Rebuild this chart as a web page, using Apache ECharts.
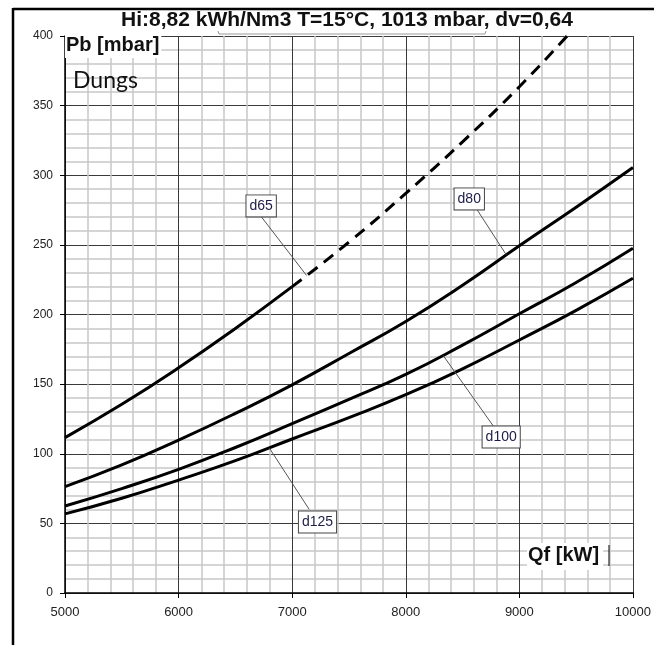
<!DOCTYPE html>
<html>
<head>
<meta charset="utf-8">
<script src="https://cdn.jsdelivr.net/npm/echarts@6/dist/echarts.min.js"></script>
<style>
html,body{margin:0;padding:0;background:#fff;}
#chart{width:654px;height:645px;}
</style>
</head>
<body>
<div id="chart"></div>
<script>
// ---- data ----
const qf = [5000, 5500, 6000, 6500, 7000, 7500, 8000, 8500, 9000, 9500, 10000];
const d80 = [76.4, 92, 109.8, 129, 149.5, 172, 195, 221, 249.3, 277, 305.5];
const d100 = [62.5, 75, 88.8, 104.5, 121.6, 139, 157, 178, 200.5, 223, 247.6];
const d125 = [56.8, 68, 81.1, 95, 110.6, 126, 142.4, 161, 181.7, 203, 226];
const d65SolidQ = [5000, 5500, 6000, 6500, 7000];
const d65Solid = [111.6, 135.5, 161.7, 190, 220];
const d65DashQ = [7000, 7500, 8000, 8500, 9000, 9420];
const d65Dash = [220, 252, 287, 324, 363.6, 400];
const xTicks = [5000, 6000, 7000, 8000, 9000, 10000];
const yTicks = [0, 50, 100, 150, 200, 250, 300, 350, 400];
const titleText = 'Hi:8,82 kWh/Nm3 T=15°C, 1013 mbar, dv=0,64';
const seriesNames = ['d65', 'd80', 'd100', 'd125'];

// ---- label callout layout (data coords of box centre, box edge and curve point) ----
const callouts = [
  {name: 'd65',  box: [6727, 278], from: [6730, 270], to: [7127, 228]},
  {name: 'd80',  box: [8559, 283], from: [8630, 275], to: [8884, 243]},
  {name: 'd100', box: [8840, 112], from: [8770, 120], to: [8330, 170.5]},
  {name: 'd125', box: [7223, 51],  from: [7150, 60],  to: [6800, 104]}
];

const zip = (xs, ys) => xs.map((x, i) => [x, ys[i]]);
const chart = echarts.init(document.getElementById('chart'), null, {renderer: 'canvas'});
const FONT = '"Liberation Sans", Arial, sans-serif';
const NARROW = '"Liberation Sans Narrow", "Arial Narrow", "Liberation Sans", sans-serif';

const lineStyle = {color: '#000', width: 3};
const option = {
  backgroundColor: '#fff',
  animation: false,
  grid: {left: 65, right: 20, top: 36, bottom: 52},
  xAxis: {
    type: 'value', min: xTicks[0], max: xTicks[xTicks.length - 1], interval: 1000,
    axisLine: {show: true, onZero: false, lineStyle: {color: '#000', width: 1.5}},
    axisTick: {show: true, length: 5, lineStyle: {color: '#000'}},
    axisLabel: {color: '#222', fontSize: 13, fontFamily: NARROW, margin: 13, formatter: v => String(v)},
    splitLine: {show: true, lineStyle: {color: '#3a3a3a', width: 1}},
    minorTick: {show: true, splitNumber: 5, length: 0},
    minorSplitLine: {show: true, lineStyle: {color: '#c8c8c8', width: 1.5}}
  },
  yAxis: {
    type: 'value', min: yTicks[0], max: yTicks[yTicks.length - 1], interval: 50,
    axisLine: {show: true, lineStyle: {color: '#000', width: 1.5}},
    axisTick: {show: true, length: 5, lineStyle: {color: '#000'}},
    axisLabel: {color: '#222', fontSize: 12, fontFamily: FONT, margin: 12, formatter: v => String(v)},
    splitLine: {show: true, lineStyle: {color: '#3a3a3a', width: 1}},
    minorTick: {show: true, splitNumber: 5, length: 0},
    minorSplitLine: {show: true, lineStyle: {color: '#c8c8c8', width: 1.5}}
  },
  series: [
    {name: 'd65', type: 'line', data: zip(d65SolidQ, d65Solid), smooth: true, symbol: 'none', lineStyle: lineStyle, z: 5},
    {name: 'd65 dashed', type: 'line', data: zip(d65DashQ, d65Dash), smooth: true, symbol: 'none',
      lineStyle: {color: '#000', width: 3, type: [12, 8]}, z: 5},
    {name: 'd80', type: 'line', data: zip(qf, d80), smooth: true, symbol: 'none', lineStyle: lineStyle, z: 5},
    {name: 'd100', type: 'line', data: zip(qf, d100), smooth: true, symbol: 'none', lineStyle: lineStyle, z: 5},
    {name: 'd125', type: 'line', data: zip(qf, d125), smooth: true, symbol: 'none', lineStyle: lineStyle, z: 5}
  ]
};
chart.setOption(option);

const px = (p) => chart.convertToPixel({gridIndex: 0}, p);
const graphics = [];
// outer frame
graphics.push({type: 'line', shape: {x1: 13, y1: 8, x2: 13, y2: 645}, style: {stroke: '#000', lineWidth: 2.5}, z: 10});
graphics.push({type: 'line', shape: {x1: 13, y1: 9, x2: 654, y2: 9}, style: {stroke: '#000', lineWidth: 2.5}, z: 10});
// title
graphics.push({type: 'text', x: 347, y: 10, z: 10,
  style: {text: titleText, font: 'bold 21px ' + FONT, fill: '#111', textAlign: 'center', textVerticalAlign: 'top'}});
graphics.push({type: 'polyline', shape: {points: [[218, 31], [219, 34], [485, 34], [486, 31]]}, style: {stroke: '#999', lineWidth: 1, fill: null}, z: 10});
// axis titles
graphics.push({type: 'text', x: 65, y: 34, z: 10,
  style: {text: 'Pb [mbar]', font: 'bold 20px ' + FONT, fill: '#111', backgroundColor: '#fff', padding: [1, 2, 3, 1]}});
graphics.push({type: 'text', x: 73, y: 69, z: 10,
  style: {text: 'Dungs', font: '23px Lato, "Open Sans", sans-serif', fill: '#111'}});
graphics.push({type: 'text', x: 527, y: 543, z: 10,
  style: {text: 'Qf [kW]', font: 'bold 20px ' + FONT, fill: '#111', backgroundColor: '#fff', padding: [2, 4, 5, 1]}});
graphics.push({type: 'line', shape: {x1: 609, y1: 545, x2: 609, y2: 566}, style: {stroke: '#000', lineWidth: 1}, z: 11});
// callouts
callouts.forEach(c => {
  const b = px(c.box), f = px(c.from), t = px(c.to);
  graphics.push({type: 'line', shape: {x1: f[0], y1: f[1], x2: t[0], y2: t[1]}, style: {stroke: '#555', lineWidth: 1}, z: 11});
  graphics.push({type: 'text', x: b[0], y: b[1], z: 12,
    style: {text: c.name, font: '14px ' + NARROW, fill: '#1c1c48', textAlign: 'center', textVerticalAlign: 'middle',
      backgroundColor: '#fff', borderColor: '#444', borderWidth: 1, padding: [4, 3, 3, 3]}});
});
chart.setOption({graphic: graphics});
</script>
</body>
</html>
